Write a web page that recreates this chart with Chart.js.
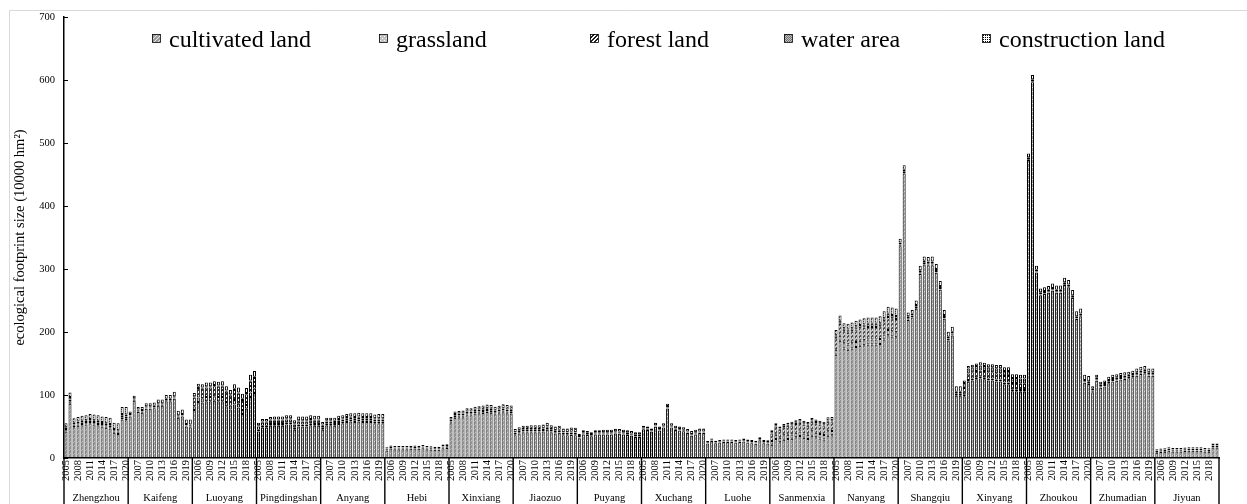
<!DOCTYPE html>
<html>
<head>
<meta charset="utf-8">
<script src="https://cdn.jsdelivr.net/npm/chart.js@4.4.1/dist/chart.umd.min.js"></script>
<style>
  html, body { margin: 0; padding: 0; background: #fff; }
  canvas { display: block; }
</style>
</head>
<body>
<canvas id="c" width="1247" height="504"></canvas>
<script>
// Prefecture-level cities of Henan, 16 years each (2005-2020)
const cities = ['Zhengzhou', 'Kaifeng', 'Luoyang', 'Pingdingshan', 'Anyang', 'Hebi', 'Xinxiang', 'Jiaozuo',
  'Puyang', 'Xuchang', 'Luohe', 'Sanmenxia', 'Nanyang', 'Shangqiu', 'Xinyang', 'Zhoukou', 'Zhumadian', 'Jiyuan'];
const years = ['2005', '2006', '2007', '2008', '2009', '2010', '2011', '2012',
  '2013', '2014', '2015', '2016', '2017', '2018', '2019', '2020'];
const yearLabels = cities.flatMap(() => years);

const seriesNames = ['cultivated land', 'grassland', 'forest land', 'water area', 'construction land'];

// ecological footprint by land type (10000 hm²), one row per city
const cultivated = [
  42, 86, 49, 51, 52, 53, 55, 53, 52, 50, 48, 47, 40, 38, 61, 60,                 // Zhengzhou
  66, 91, 73, 72, 78, 78, 79, 83, 83, 90, 90, 94, 64, 66, 50, 49,                 // Kaifeng
  76, 89, 88, 90, 90, 91, 90, 90, 82, 77, 85, 80, 70, 78, 97, 103,                // Luoyang
  42, 48, 48, 51, 51, 51, 51, 53, 53, 45, 50, 50, 50, 52, 51, 51,                 // Pingdingshan
  45, 52, 52, 51, 54, 55, 57, 58, 57, 58, 57, 57, 57, 55, 55, 55,                 // Anyang
  12, 15, 14, 14, 14, 14, 14.5, 15, 14.5, 15.5, 14, 13.5, 13, 13, 15.5, 16,       // Hebi
  55, 64, 64.5, 64.5, 68, 68, 70.5, 71, 71.5, 73, 72, 69.5, 71, 72.5, 71, 70.5,   // Xinxiang
  36, 39, 41, 41, 41, 41, 41, 42, 45, 41, 39, 40, 36, 36, 36.5, 36,               // Jiaozuo
  31.5, 37.5, 36.5, 34.5, 37.5, 37.5, 37.5, 37.5, 37.5, 39, 38.5, 37.5, 36.5, 35.5, 33.5, 33.5, // Puyang
  45.5, 44.5, 41.5, 49.5, 43.5, 48.5, 78.5, 48.5, 44.5, 43.5, 42.5, 39.5, 35.5, 37.5, 39.5, 39.5, // Xuchang
  23, 27, 23.5, 24.5, 25.5, 25.5, 25.5, 24.5, 25.5, 26, 24.5, 23.5, 22.5, 28, 23.5, 23, // Luohe
  21, 30, 25, 29, 30, 30.5, 33, 35, 32, 30, 35.5, 33, 31, 29.5, 35.5, 36,         // Sanmenxia
  164, 186, 174, 172, 174, 176, 178, 179, 180, 180, 180, 181, 188, 195, 193, 191.5, // Nanyang
  336, 451.5, 219, 223, 237, 292, 307, 306, 306, 294, 267, 221, 186.5, 194.5, 99, 99, // Shangqiu
  98, 121, 123, 125, 126, 125, 123, 123, 121.5, 121.5, 117, 117, 106, 106, 105, 105, // Xinyang
  473, 596.5, 294.5, 258.5, 260.5, 262.5, 265.5, 262.5, 262.5, 274.5, 271, 254, 220.5, 225, 119.5, 117.5, // Zhoukou
  104.5, 122.5, 111.5, 113.5, 118.5, 121.5, 122.5, 124.5, 125.5, 126.5, 128, 130.5, 133.5, 134.5, 130.5, 130.5, // Zhumadian
  8.5, 9.5, 10, 11.5, 10.5, 10.5, 10.5, 11, 11.5, 11.5, 11.5, 11.5, 10.5, 10, 16.5, 16.5 // Jiyuan
];
const grassland = [
  2, 4, 2, 2, 2, 2, 2, 2, 2, 2, 2, 2, 2, 2, 3, 3,
  1, 1, 1, 1, 1, 1, 1, 1, 1, 1, 1, 1, 1, 1, 1, 1,
  6, 7, 7, 7, 7, 7, 7, 7, 7, 6, 7, 6, 6, 6, 7, 7,
  3, 3, 3, 3, 3, 3, 3, 3, 3, 3, 3, 3, 3, 3, 3, 3,
  3, 3, 3, 3, 3, 3, 3, 3, 3, 3, 3, 3, 3, 3, 3, 3,
  1, 1, 1, 1, 1, 1, 1, 1, 1, 1, 1, 1, 1, 1, 1, 1,
  1, 1, 1, 1, 1, 1, 1, 1, 1, 1, 1, 1, 1, 1, 1, 1,
  1, 1, 1, 1, 1, 1, 1, 1, 1, 1, 1, 1, 1, 1, 1, 1,
  0.5, 0.5, 0.5, 0.5, 0.5, 0.5, 0.5, 0.5, 0.5, 0.5, 0.5, 0.5, 0.5, 0.5, 0.5, 0.5,
  0.5, 0.5, 0.5, 0.5, 0.5, 0.5, 0.5, 0.5, 0.5, 0.5, 0.5, 0.5, 0.5, 0.5, 0.5, 0.5,
  0.5, 0.5, 0.5, 0.5, 0.5, 0.5, 0.5, 0.5, 0.5, 0.5, 0.5, 0.5, 0.5, 0.5, 0.5, 0.5,
  6, 7, 7, 7, 7, 7, 7, 7, 7, 7, 7, 7, 7, 7, 7, 7,
  8, 8, 8, 8, 8, 8, 8, 8, 8, 8, 8, 8, 8, 8, 8, 8,
  1, 1, 1, 1, 1, 1, 1, 1, 1, 1, 1, 1, 1, 1, 1, 1,
  3, 3, 3, 3, 3, 3, 3, 3, 3, 3, 3, 3, 3, 3, 3, 3,
  0.5, 0.5, 0.5, 0.5, 0.5, 0.5, 0.5, 0.5, 0.5, 0.5, 0.5, 0.5, 0.5, 0.5, 0.5, 0.5,
  0.5, 0.5, 0.5, 0.5, 0.5, 0.5, 0.5, 0.5, 0.5, 0.5, 0.5, 0.5, 0.5, 0.5, 0.5, 0.5,
  1, 1, 1, 1, 1, 1, 1, 1, 1, 1, 1, 1, 1, 1, 1, 1
];
const forest = [
  2, 3, 2, 2, 2, 2, 2, 2, 2, 2, 2, 2, 2, 2, 3, 3,
  1, 1, 1, 1, 1, 1, 1, 1, 1, 1, 1, 1, 1, 1, 1, 1,
  14, 15, 15, 15, 15, 16, 16, 16, 16, 16, 16, 16, 16, 17, 17, 17,
  5, 5, 5, 5, 5, 5, 5, 5, 5, 5, 5, 5, 5, 5, 5, 5,
  3, 3, 3, 3, 3, 3, 3, 3, 3, 3, 3, 3, 3, 3, 3, 3,
  1.5, 1.5, 1.5, 1.5, 1.5, 1.5, 1.5, 1.5, 1.5, 1.5, 1.5, 1.5, 1.5, 1.5, 1.5, 1.5,
  2, 2, 2, 2, 2, 2, 2, 2, 2, 2, 2, 2, 2, 2, 2, 2,
  3, 3, 3, 3, 3, 3, 3, 3, 3, 3, 3, 3, 3, 3, 3, 3,
  1, 1, 1, 1, 1, 1, 1, 1, 1, 1, 1, 1, 1, 1, 1, 1,
  1, 1, 1, 1, 1, 1, 1, 1, 1, 1, 1, 1, 1, 1, 1, 1,
  0.5, 0.5, 0.5, 0.5, 0.5, 0.5, 0.5, 0.5, 0.5, 0.5, 0.5, 0.5, 0.5, 0.5, 0.5, 0.5,
  12, 13, 13, 13, 14, 14, 14, 14, 14, 14, 15, 15, 15, 15, 15, 15,
  18, 19, 19, 19, 19, 20, 20, 20, 20, 20, 20, 20, 21, 21, 21, 21,
  2, 2, 2, 2, 2, 2, 2, 2, 2, 2, 2, 2, 2, 2, 2, 2,
  10, 10, 10, 10, 10, 10, 10, 10, 10, 10, 10, 10, 10, 10, 10, 10,
  1, 1, 1, 1, 1, 1, 1, 1, 1, 1, 1, 1, 1, 1, 1, 1,
  2, 2, 2, 2, 2, 2, 2, 2, 2, 2, 2, 2, 2, 2, 2, 2,
  2, 2, 2, 2, 2, 2, 2, 2, 2, 2, 2, 2, 2, 2, 2, 2
];
const water = [
  3, 4, 3, 3, 3, 3, 3, 3, 3, 3, 3, 3, 2, 2, 3, 3,
  2, 2, 2, 2, 2, 2, 2, 2, 2, 2, 2, 2, 2, 2, 2, 2,
  2, 2, 2, 2, 2, 2, 2, 2, 2, 2, 2, 2, 2, 2, 2, 2,
  2, 2, 2, 2, 2, 2, 2, 2, 2, 2, 2, 2, 2, 2, 2, 2,
  2, 2, 2, 2, 2, 2, 2, 2, 2, 2, 2, 2, 2, 2, 2, 2,
  0.5, 0.5, 0.5, 0.5, 0.5, 0.5, 0.5, 0.5, 0.5, 0.5, 0.5, 0.5, 0.5, 0.5, 0.5, 0.5,
  3, 3, 3, 3, 3, 3, 3, 3, 3, 3, 3, 3, 3, 3, 3, 3,
  1, 1, 1, 1, 1, 1, 1, 1, 1, 1, 1, 1, 1, 1, 1, 1,
  2, 2, 2, 2, 2, 2, 2, 2, 2, 2, 2, 2, 2, 2, 2, 2,
  1, 1, 1, 1, 1, 1, 1, 1, 1, 1, 1, 1, 1, 1, 1, 1,
  1, 1, 1, 1, 1, 1, 1, 1, 1, 1, 1, 1, 1, 1, 1, 1,
  2, 2, 2, 2, 2, 2, 2, 2, 2, 2, 2, 2, 2, 2, 2, 2,
  5, 5, 5, 5, 5, 5, 5, 5, 5, 5, 5, 5, 5, 5, 5, 5,
  3, 3, 3, 3, 3, 3, 3, 3, 3, 3, 3, 3, 3, 3, 3, 3,
  8, 8, 8, 8, 8, 8, 8, 8, 8, 8, 8, 8, 8, 8, 8, 8,
  3, 3, 3, 3, 3, 3, 3, 3, 3, 3, 3, 3, 3, 3, 3, 3,
  3, 3, 3, 3, 3, 3, 3, 3, 3, 3, 3, 3, 3, 3, 3, 3,
  0.5, 0.5, 0.5, 0.5, 0.5, 0.5, 0.5, 0.5, 0.5, 0.5, 0.5, 0.5, 0.5, 0.5, 0.5, 0.5
];
const construction = [
  6, 7, 7, 7, 8, 8, 8, 9, 9, 9, 10, 10, 10, 11, 11, 12,
  4, 4, 4, 5, 5, 5, 5, 6, 6, 6, 6, 7, 7, 7, 7, 8,
  5, 5, 5, 6, 6, 6, 6, 7, 7, 7, 7, 8, 8, 8, 9, 9,
  4, 4, 4, 4, 5, 5, 5, 5, 5, 5, 6, 6, 6, 6, 6, 6,
  4, 4, 4, 5, 5, 5, 5, 5, 6, 6, 6, 6, 6, 6, 7, 7,
  2, 2, 2, 2, 2, 2, 2, 2, 2, 2, 2, 2, 2, 2, 3, 3,
  4, 4, 4, 5, 5, 5, 5, 5, 6, 6, 6, 6, 6, 7, 7, 7,
  5, 5, 5, 5, 6, 6, 6, 6, 6, 6, 6, 6, 6, 6, 7, 7,
  3, 3, 3, 3, 3, 3, 4, 4, 4, 4, 4, 4, 4, 4, 4, 4,
  3, 3, 3, 4, 4, 4, 5, 4, 4, 4, 4, 4, 5, 5, 5, 5,
  2, 2, 2, 2, 2, 2, 2, 2, 2, 3, 3, 3, 3, 3, 3, 3,
  3, 3, 3, 3, 3, 4, 4, 4, 4, 4, 4, 4, 4, 4, 5, 5,
  8, 8, 8, 9, 9, 9, 9, 10, 10, 10, 10, 11, 11, 11, 12, 12,
  6, 7, 6, 6, 7, 7, 7, 7, 8, 8, 8, 8, 8, 8, 9, 9,
  4, 4, 4, 4, 5, 5, 5, 5, 5, 5, 6, 6, 6, 6, 6, 6,
  6, 7, 6, 6, 6, 6, 7, 7, 7, 7, 7, 8, 8, 8, 8, 8,
  4, 4, 4, 4, 5, 5, 5, 5, 5, 5, 5, 6, 6, 6, 6, 6,
  2, 2, 2, 2, 2, 2, 2, 2, 2, 2, 2, 2, 2, 2, 3, 3
];

const yTicks = [0, 100, 200, 300, 400, 500, 600, 700];

const canvas = document.getElementById('c');
const ctx0 = canvas.getContext('2d');

// small monochrome fill patterns, one per land type
function makePattern(size, draw) {
  const t = document.createElement('canvas');
  t.width = size; t.height = size;
  const g = t.getContext('2d');
  draw(g, size);
  return ctx0.createPattern(t, 'repeat');
}
const patterns = [
  makePattern(4, (g, s) => {            // diagonal hatch on grey
    g.fillStyle = '#9c9c9c'; g.fillRect(0, 0, s, s);
    g.fillStyle = '#e8e8e8';
    for (let i = 0; i < s; i++) g.fillRect(i, s - 1 - i, 1, 1);
  }),
  makePattern(4, (g, s) => {            // light grey stipple
    g.fillStyle = '#c0c0c0'; g.fillRect(0, 0, s, s);
    g.fillStyle = '#ffffff'; g.fillRect(0, 0, 1, 1); g.fillRect(2, 2, 1, 1);
  }),
  makePattern(4, (g, s) => {            // heavy diagonal hatch
    g.fillStyle = '#ffffff'; g.fillRect(0, 0, s, s);
    g.fillStyle = '#222222';
    for (let i = 0; i < s; i++) { g.fillRect(i, s - 1 - i, 1, 1); g.fillRect((i + 1) % s, s - 1 - i, 1, 1); }
  }),
  makePattern(2, (g, s) => {            // grey checker
    g.fillStyle = '#c4c4c4'; g.fillRect(0, 0, s, s);
    g.fillStyle = '#6e6e6e'; g.fillRect(0, 0, 1, 1); g.fillRect(1, 1, 1, 1);
  }),
  makePattern(4, (g, s) => {            // dotted grid
    g.fillStyle = '#ffffff'; g.fillRect(0, 0, s, s);
    g.fillStyle = '#000000';
    g.fillRect(1, 1, 1, 1); g.fillRect(3, 1, 1, 1); g.fillRect(1, 3, 1, 1); g.fillRect(3, 3, 1, 1);
  })
];

const seriesData = [cultivated, grassland, forest, water, construction];
const serif = '"Liberation Serif", "Times New Roman", serif';

const datasets = seriesNames.map((name, i) => ({
  label: name,
  data: seriesData[i],
  backgroundColor: patterns[i],
  borderColor: '#000',
  borderWidth: 1,
  borderSkipped: false,
  barPercentage: 0.75,
  categoryPercentage: 1
}));

// separators under the axis, inner y ticks, legend row and faint frame
const decor = {
  id: 'decor',
  afterDraw(chart) {
    const { ctx, chartArea, scales } = chart;
    const x = scales.x, y = scales.y;
    ctx.save();

    ctx.strokeStyle = '#d9d9d9';
    ctx.lineWidth = 1;
    ctx.beginPath();
    ctx.moveTo(9.5, chart.height); ctx.lineTo(9.5, 10.5); ctx.lineTo(chart.width, 10.5);
    ctx.stroke();

    ctx.strokeStyle = '#000';
    ctx.lineWidth = 1;
    yTicks.forEach(v => {
      const py = Math.round(y.getPixelForValue(v)) + 0.5;
      ctx.beginPath();
      ctx.moveTo(chartArea.left, py);
      ctx.lineTo(chartArea.left + 4, py);
      ctx.stroke();
    });

    ctx.lineWidth = 1.4;
    const per = years.length;
    for (let k = 0; k <= cities.length; k++) {
      let px;
      if (k === 0) px = x.left;
      else if (k === cities.length) px = x.right;
      else px = (x.getPixelForValue(k * per - 1) + x.getPixelForValue(k * per)) / 2;
      ctx.beginPath();
      ctx.moveTo(px, chartArea.bottom);
      ctx.lineTo(px, chart.height);
      ctx.stroke();
    }

    const starts = [152, 379, 590, 784, 982];
    ctx.font = '24px ' + serif;
    ctx.textBaseline = 'alphabetic';
    ctx.textAlign = 'left';
    seriesNames.forEach((name, i) => {
      const sx = starts[i];
      ctx.fillStyle = patterns[i];
      ctx.fillRect(sx, 34, 8, 8);
      ctx.lineWidth = 0.8;
      ctx.strokeStyle = '#000';
      ctx.strokeRect(sx + 0.5, 34.5, 8, 8);
      ctx.fillStyle = '#000';
      ctx.fillText(name, sx + 17, 47);
    });
    ctx.restore();
  }
};

new Chart(canvas, {
  type: 'bar',
  data: { labels: yearLabels, datasets },
  options: {
    responsive: false,
    devicePixelRatio: 1,
    animation: false,
    layout: { padding: { top: 17, right: 28, left: 0, bottom: 0 } },
    plugins: { legend: { display: false }, tooltip: { enabled: false } },
    scales: {
      x: {
        stacked: true,
        ticks: {
          autoSkip: false, maxRotation: 90, minRotation: 90, padding: 2,
          font: { family: serif, size: 10.5 }, color: '#000',
          callback: (v, i) => (i % 3 === 0 ? yearLabels[i] : '')
        },
        grid: { display: false, drawTicks: false },
        border: { display: true, color: '#000', width: 1.5 },
        afterFit(s) { s.height = 33; }
      },
      x2: {
        type: 'category',
        labels: cities,
        position: 'bottom',
        weight: 1,
        offset: true,
        ticks: { autoSkip: false, maxRotation: 0, minRotation: 0, padding: 1, font: { family: serif, size: 10.5 }, color: '#000' },
        grid: { display: false, drawTicks: false },
        border: { display: false },
        afterFit(s) { s.height = 13; }
      },
      y: {
        stacked: true,
        min: 0,
        max: 700,
        ticks: { stepSize: 100, padding: 9, font: { family: serif, size: 10.5 }, color: '#000' },
        grid: { display: false, drawTicks: false },
        border: { display: true, color: '#000', width: 1.5 },
        title: {
          display: true,
          text: 'ecological footprint size (10000 hm²)',
          font: { family: serif, size: 14.5 },
          color: '#000',
          padding: { top: 11, bottom: 0 }
        },
        afterFit(s) { s.width = 64; }
      }
    }
  },
  plugins: [decor]
});
</script>
</body>
</html>
